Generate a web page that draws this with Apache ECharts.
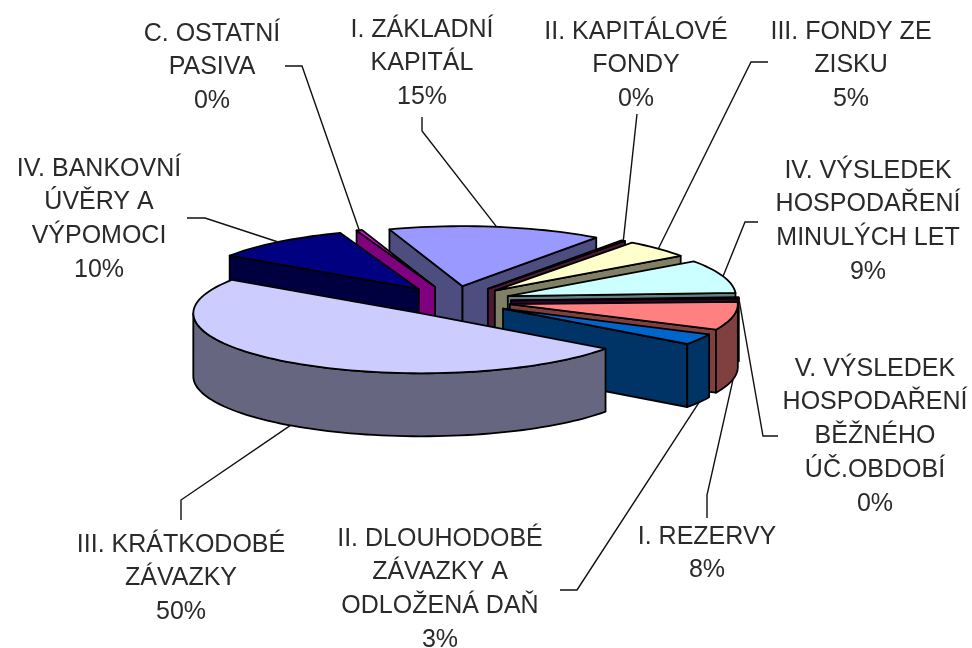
<!DOCTYPE html>
<html>
<head>
<meta charset="utf-8">
<style>
  html, body { margin: 0; padding: 0; background: #fff; }
  #chart { width: 972px; height: 648px; }
</style>
<script src="https://cdn.jsdelivr.net/npm/echarts@6/dist/echarts.min.js"></script>
</head>
<body>
<div id="chart"></div>
<script>
// data, clockwise from the first slice
var categories = [
  'I. ZÁKLADNÍ\nKAPITÁL', 'II. KAPITÁLOVÉ\nFONDY', 'III. FONDY ZE\nZISKU',
  'IV. VÝSLEDEK\nHOSPODAŘENÍ\nMINULÝCH LET', 'V. VÝSLEDEK\nHOSPODAŘENÍ\nBĚŽNÉHO\nÚČ.OBDOBÍ',
  'I. REZERVY', 'II. DLOUHODOBÉ\nZÁVAZKY A\nODLOŽENÁ DAŇ', 'III. KRÁTKODOBÉ\nZÁVAZKY',
  'IV. BANKOVNÍ\nÚVĚRY A\nVÝPOMOCI', 'C. OSTATNÍ\nPASIVA'
];
var values = [15.2, 0.3, 4.9, 9.0, 0.3, 7.6, 3.0, 49.5, 10.0, 0.4];

// styles
var topColors = ['#9999FF', '#993366', '#FFFFCC', '#CCFFFF', '#660066', '#FF8080', '#0066CC', '#CCCCFF', '#000080', '#FF00FF'];
var wallColors = ['#4D4D80', '#4D1A33', '#808066', '#668080', '#330033', '#804040', '#003366', '#666680', '#000040', '#800080'];

// label placement: centre x, top y, leader points from the label towards the slice
var labelX = [422, 636, 851, 868, 875, 707, 440, 181, 99, 212];
var labelY = [13, 15, 15, 154, 352, 520, 522, 528, 152, 17];
var leaderFrom = [
  [[422, 117], [422, 131]],
  [[637, 114]],
  [[768, 62], [751, 62]],
  [[758, 222], [745, 222]],
  [[778, 436], [763, 436]],
  [[707, 518], [707, 495]],
  [[560, 590], [577, 590]],
  [[181, 520], [181, 500]],
  [[187, 218], [205, 218]],
  [[285, 66], [302, 66]]
];

// pie geometry
var centerX = 454, centerY = 301;
var radiusX = 228, radiusY = 60;
var depth = 63, explode = 57;
var startAngle = -18.7;

var total = values.reduce(function (a, b) { return a + b; }, 0);
var rad = Math.PI / 180;

var slices = [];
var acc = startAngle;
values.forEach(function (v, i) {
  var sweep = v / total * 360;
  var mid = acc + sweep / 2;
  slices.push({
    index: i,
    from: acc,
    to: acc + sweep,
    mid: mid,
    x: centerX + explode * Math.sin(mid * rad),
    y: centerY - explode * radiusY / radiusX * Math.cos(mid * rad)
  });
  acc += sweep;
});

function rim(s, angle, drop) {
  return [s.x + radiusX * Math.sin(angle * rad), s.y - radiusY * Math.cos(angle * rad) + (drop || 0)];
}

// back slices first, the one nearest to the viewer last
var drawOrder = slices.slice().sort(function (a, b) { return a.y - b.y; });

function poly(points, fill) {
  return {
    type: 'polygon',
    shape: { points: points },
    style: { fill: fill, stroke: '#000', lineWidth: 1.8, lineJoin: 'round' }
  };
}

function renderSlice(params, api) {
  var s = slices[api.value(0)];
  var top = topColors[s.index], wall = wallColors[s.index];
  var children = [];
  var apex = [s.x, s.y], apexLow = [s.x, s.y + depth];

  // radial walls
  if (Math.sin(s.from * rad) < 0) {
    children.push(poly([apex, rim(s, s.from), rim(s, s.from, depth), apexLow], wall));
  }
  if (Math.sin(s.to * rad) > 0) {
    children.push(poly([apex, rim(s, s.to), rim(s, s.to, depth), apexLow], wall));
  }

  // outer wall, only the part facing the viewer
  var a0 = Math.max(s.from, 90), a1 = Math.min(s.to, 270);
  if (a1 > a0) {
    var upper = [], lower = [];
    for (var a = a0; a < a1; a += 2) {
      upper.push(rim(s, a));
      lower.unshift(rim(s, a, depth));
    }
    upper.push(rim(s, a1));
    lower.unshift(rim(s, a1, depth));
    children.push(poly(upper.concat(lower), wall));
  }

  // top face
  var face = [apex];
  for (var b = s.from; b < s.to; b += 2) {
    face.push(rim(s, b));
  }
  face.push(rim(s, s.to));
  children.push(poly(face, top));

  return { type: 'group', children: children };
}

function renderLabel(params, api) {
  var s = slices[api.value(0)];
  var i = s.index;
  var text = categories[i] + '\n' + Math.round(values[i]) + '%';
  var end = rim(s, s.mid, s.mid > 90 && s.mid < 270 ? depth : 0);
  return {
    type: 'group',
    children: [{
      type: 'polyline',
      shape: { points: leaderFrom[i].concat([end]) },
      style: { fill: null, stroke: '#111', lineWidth: 1.4 }
    }, {
      type: 'text',
      style: {
        text: text,
        x: labelX[i],
        y: labelY[i],
        align: 'center',
        verticalAlign: 'top',
        font: '25px "Liberation Sans"',
        lineHeight: 33.7,
        fill: '#2a2a2a'
      }
    }]
  };
}

var myEchart = echarts.init(document.getElementById('chart'));
var option = {
  backgroundColor: '#fff',
  animation: false,
  series: [{
    type: 'custom',
    coordinateSystem: 'none',
    renderItem: renderSlice,
    data: drawOrder.map(function (s) { return [s.index, values[s.index]]; })
  }, {
    type: 'custom',
    coordinateSystem: 'none',
    renderItem: renderLabel,
    data: slices.map(function (s) { return [s.index, values[s.index]]; })
  }]
};
myEchart.setOption(option);
</script>
</body>
</html>
